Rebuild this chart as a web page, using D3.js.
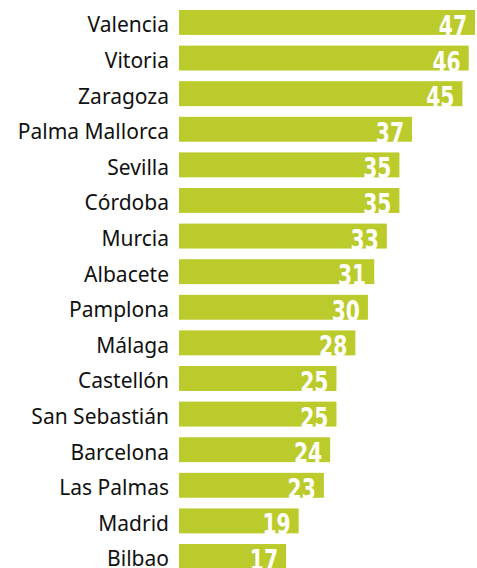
<!DOCTYPE html>
<html>
<head>
<meta charset="utf-8">
<script src="https://cdn.jsdelivr.net/npm/d3@7"></script>
<style>
    body { margin: 0; background: #fff; }
    .label { font-family: "Noto Sans", sans-serif; font-size: 21px; fill: #111; }
    .value { font-family: "DejaVu Sans", sans-serif; font-weight: bold; font-size: 29px; fill: #fff; }
</style>
</head>
<body>
<div id="chart"></div>
<script>
const cities = ['Valencia', 'Vitoria', 'Zaragoza', 'Palma Mallorca', 'Sevilla', 'Córdoba', 'Murcia',
    'Albacete', 'Pamplona', 'Málaga', 'Castellón', 'San Sebastián', 'Barcelona', 'Las Palmas', 'Madrid', 'Bilbao'];
const values = [47, 46, 45, 37, 35, 35, 33, 31, 30, 28, 25, 25, 24, 23, 19, 17];

const width = 477;
const height = 568;

const data = cities.map((city, i) => ({ city, value: values[i] }));

const svg = d3.select('#chart')
    .append('svg')
    .attr('width', width)
    .attr('height', height);

// band layout: ~35.6px per row, 25px bars, first bar at y=10
const y = d3.scaleBand()
    .domain(cities)
    .range([4.66, 574.3])
    .paddingInner(0.3)
    .paddingOuter(0.15);

const x = d3.scaleLinear()
    .domain([0, 47])
    .range([179, 475]);

const rows = svg.selectAll('g.row')
    .data(data)
    .enter()
    .append('g')
    .attr('class', 'row');

rows.append('rect')
    .attr('x', x(0))
    .attr('y', d => y(d.city))
    .attr('width', d => x(d.value) - x(0))
    .attr('height', y.bandwidth())
    .attr('fill', '#bbcb2b');

rows.append('text')
    .attr('class', 'label')
    .attr('x', x(0) - 10)
    .attr('y', d => y(d.city) + y.bandwidth() / 2 + 10)
    .attr('text-anchor', 'end')
    .text(d => d.city);

// condensed look: squeeze the bold digits horizontally around their right edge
rows.append('text')
    .attr('class', 'value')
    .attr('transform', d => `translate(${x(d.value) - 8},${y(d.city) + y.bandwidth() / 2 + 13.5}) scale(0.7,1)`)
    .attr('text-anchor', 'end')
    .text(d => d.value);
</script>
</body>
</html>
